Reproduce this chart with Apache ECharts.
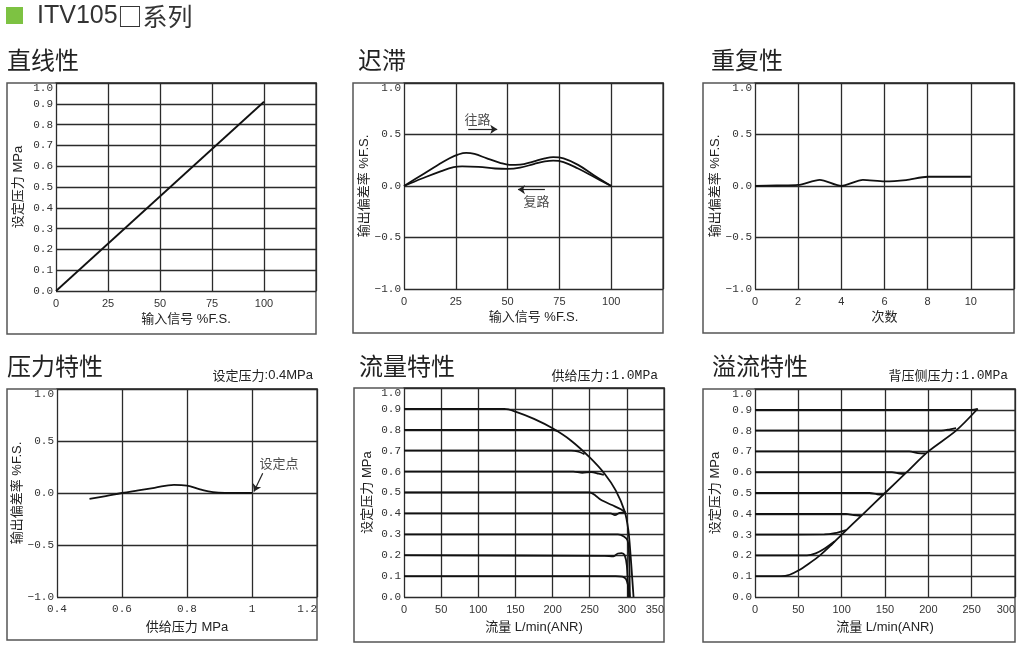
<!DOCTYPE html>
<html><head><meta charset="utf-8">
<script src="https://cdn.jsdelivr.net/npm/echarts@6/dist/echarts.min.js"></script>
<style>html,body{margin:0;padding:0;background:#fff}#c{width:1027px;height:648px}</style>
</head><body><div id="c"></div>
<script>
// ---------- data ----------
// 直线性
const linInput = [0, 100];
const linOutput = [0, 0.91];
// 迟滞
const hystUp = [[0,0],[8,0.1],[16,0.2],[22,0.27],[26,0.305],[30,0.322],[34,0.312],[40,0.268],[46,0.228],[51,0.205],[56,0.208],[62,0.235],[68,0.268],[72,0.28],[77,0.268],[84,0.205],[92,0.1],[100,0]];
const hystDown = [[0,0],[9,0.075],[18,0.145],[24,0.183],[28,0.19],[36,0.185],[44,0.17],[50,0.166],[56,0.178],[63,0.215],[68,0.238],[72,0.246],[77,0.232],[84,0.17],[92,0.085],[100,0]];
const hystFwdArrow = [[31,0.55],[45,0.55]];
const hystBackArrow = [[68,-0.035],[55,-0.035]];
const hystFwdLabel = [35.5,0.65];
const hystBackLabel = [64,-0.15];
// 重复性
const repCount = [0,1,2,3,4,5,6,7,8,9,10];
const repDev = [0,0.005,0.01,0.06,0,0.06,0.045,0.058,0.09,0.09,0.09];
// 压力特性
const presSupply = [0.5,0.55,0.6,0.65,0.7,0.76,0.8,0.84,0.88,0.92,1.0];
const presDev = [-0.057,-0.03,0.0,0.025,0.05,0.078,0.07,0.035,0.008,0.001,0];
const presMarkLabel = [1.083,0.29];
const presMarkArrow = [[1.033,0.19],[1.006,0.015]];
// 流量特性
const flow09 = [[0,0.9],[135,0.9],[150,0.887],[175,0.852],[200,0.807],[225,0.748],[250,0.668],[270,0.59],[285,0.51],[297,0.41],[302,0.32],[305,0.2],[307,0.1],[309,0]];
const flow08 = [[0,0.8],[192,0.8],[200,0.8],[206,0.795]];
const flow07 = [[0,0.7],[225,0.7],[235,0.695],[243,0.683]];
const flow06 = [[0,0.6],[228,0.6],[240,0.594],[252,0.598],[262,0.59],[269,0.584]];
const flow05 = [[0,0.5],[250,0.5],[258,0.485],[265,0.465],[280,0.44],[292,0.42],[298,0.405]];
const flow04 = [[0,0.4],[278,0.4],[284,0.392],[290,0.403],[298,0.405]];
const flow03 = [[0,0.3],[288,0.3],[296,0.29],[301,0.27],[303,0.2],[304,0]];
const flow02 = [[0,0.2],[270,0.197],[282,0.195],[288,0.208],[293,0.21],[297,0.2],[300,0.15],[302,0]];
const flow01 = [[0,0.1],[285,0.1],[294,0.097],[299,0.085],[302,0.05],[304,0]];
// 溢流特性
const relief01 = [[0,0.1],[30,0.1],[40,0.107],[50,0.127],[62,0.16],[75,0.2],[88,0.25],[100,0.3],[125,0.4],[150,0.5],[175,0.6],[200,0.7],[232,0.8],[257,0.905]];
const relief02 = [[0,0.2],[60,0.2],[70,0.21],[80,0.232],[92,0.268]];
const relief03 = [[0,0.3],[80,0.301],[92,0.307],[105,0.322]];
const relief04 = [[0,0.4],[105,0.4],[114,0.394],[122,0.39]];
const relief05 = [[0,0.5],[132,0.5],[141,0.494],[148,0.492]];
const relief06 = [[0,0.6],[158,0.6],[167,0.593],[173,0.592]];
const relief07 = [[0,0.7],[178,0.7],[188,0.692],[197,0.69]];
const relief08 = [[0,0.8],[215,0.8],[225,0.806],[232,0.812]];
const relief09 = [[0,0.9],[250,0.9],[257,0.905]];

// ---------- layout ----------
const chart = echarts.init(document.getElementById('c'));
const SANS = "'Liberation Sans','Noto Sans CJK SC',sans-serif";
const CJK = "'Noto Sans CJK SC','Liberation Sans',sans-serif";
const MONO = "'Liberation Mono','DejaVu Sans Mono',monospace";

const gridBoxes = [
  {left:56, top:83, width:260, height:208},
  {left:404, top:83, width:259, height:206},
  {left:755, top:83, width:259, height:206},
  {left:57, top:389, width:260, height:208},
  {left:404, top:388, width:260, height:209},
  {left:755, top:389, width:260, height:208}
];
const panels = [
  [7,83,309,251],[353,83,310,250],[703,83,311,250],
  [7,389,310,251],[354,388,310,254],[703,389,312,253]
];

function dec(v){ const r = Math.round(v*10)/10; return (r<0?'−':'') + Math.abs(r).toFixed(1); }

const splitStyle = {show:true, lineStyle:{color:'#2b2b2b', width:1.3}};
function xAx(gi, min, max, interval, name, opts){
  opts = opts || {};
  return {
    type:'value', gridIndex:gi, min, max, interval,
    axisLine:{show:false}, axisTick:{show:false}, splitLine:splitStyle,
    axisLabel:Object.assign({color:'#333', fontSize:11, fontFamily:SANS, margin:7}, opts.label||{}),
    name, nameLocation:'middle', nameGap:opts.nameGap||22,
    nameTextStyle:{color:'#222', fontSize:13, fontFamily:SANS}
  };
}
function yAx(gi, min, max, interval, name, nameGap){
  return {
    type:'value', gridIndex:gi, min, max, interval,
    axisLine:{show:false}, axisTick:{show:false}, splitLine:splitStyle,
    axisLabel:{color:'#333', fontSize:11, fontFamily:MONO, margin:3, formatter:dec, verticalAlignMaxLabel:'top'},
    name, nameLocation:'middle', nameGap,
    nameTextStyle:{color:'#222', fontSize:13, fontFamily:SANS}
  };
}

function ln(gi, data, smooth){
  return {type:'line', xAxisIndex:gi, yAxisIndex:gi, data, smooth:smooth===undefined?0.4:smooth,
    showSymbol:false, symbol:'none', silent:true, lineStyle:{color:'#111', width:1.8}, z:5};
}
function note(gi, pos, text, arrows){
  const s = {type:'scatter', xAxisIndex:gi, yAxisIndex:gi, symbolSize:0, silent:true, z:6,
    data:[{value:pos, name:text}],
    label:{show:true, position:'inside', formatter:'{b}', color:'#222', fontSize:13, fontFamily:CJK}};
  if (arrows) s.markLine = {silent:true, symbol:['none','arrow'], symbolSize:7, animation:false,
    lineStyle:{color:'#222', width:1.2, type:'solid'}, label:{show:false},
    data: arrows.map(a=>[{coord:a[0]},{coord:a[1]}])};
  return s;
}

const titleStyle = {color:'#222', fontSize:24, fontWeight:'normal', fontFamily:CJK};
const noteRich = {
  a:{fontSize:13, fontFamily:CJK, color:'#222', fontWeight:'normal'},
  b:{fontSize:13, fontFamily:MONO, color:'#222', fontWeight:'normal'},
  c:{fontSize:13, fontFamily:SANS, color:'#222', fontWeight:'normal'}
};
const headRich = {
  l:{fontSize:25, fontFamily:SANS, color:'#333', fontWeight:'normal'},
  k:{fontSize:25, fontFamily:CJK, color:'#333', fontWeight:'normal'}
};

const option = {
  animation:false,
  backgroundColor:'#fff',
  graphic:[
    {type:'rect', shape:{x:6,y:7,width:17,height:17}, style:{fill:'#7dc242'}, z:0},
    ...panels.map(p=>({type:'rect', shape:{x:p[0],y:p[1],width:p[2],height:p[3]}, style:{fill:'#fff', stroke:'#555', lineWidth:1.5}, z:0}))
  ],
  title:[
    {text:'{l|ITV105}{k|□系列}', left:37, top:4, padding:0, textStyle:{fontWeight:'normal', rich:headRich}},
    {text:'直线性', left:7, top:48, padding:0, textStyle:titleStyle},
    {text:'迟滞', left:358, top:48, padding:0, textStyle:titleStyle},
    {text:'重复性', left:711, top:48, padding:0, textStyle:titleStyle},
    {text:'压力特性', left:7, top:354, padding:0, textStyle:titleStyle},
    {text:'流量特性', left:359, top:354, padding:0, textStyle:titleStyle},
    {text:'溢流特性', left:712, top:354, padding:0, textStyle:titleStyle},
    {text:'{a|设定压力}{c|:0.4MPa}', right:714, top:369, padding:0, textStyle:{fontWeight:'normal', rich:noteRich}},
    {text:'{a|供给压力}{b|:1.0MPa}', right:369, top:369, padding:0, textStyle:{fontWeight:'normal', rich:noteRich}},
    {text:'{a|背压侧压力}{b|:1.0MPa}', right:19, top:369, padding:0, textStyle:{fontWeight:'normal', rich:noteRich}}
  ],
  grid: gridBoxes.map(g=>Object.assign({show:true, backgroundColor:'#e9e9e9', borderColor:'#1e1e1e', borderWidth:1.5, containLabel:false, outerBoundsMode:'none'}, g)),
  xAxis:[
    xAx(0, 0, 125, 25, '输入信号 %F.S.', {label:{showMaxLabel:false}}),
    xAx(1, 0, 125, 25, '输入信号 %F.S.', {label:{showMaxLabel:false}}),
    xAx(2, 0, 12, 2, '次数', {label:{showMaxLabel:false}}),
    xAx(3, 0.4, 1.2, 0.2, '供给压力 MPa', {nameGap:24, label:{fontFamily:MONO, alignMaxLabel:'right', formatter:v=>Math.abs(v-1)<1e-9?'1':v.toFixed(1)}}),
    xAx(4, 0, 350, 50, '流量 L/min(ANR)', {nameGap:24, label:{alignMaxLabel:'right'}}),
    xAx(5, 0, 300, 50, '流量 L/min(ANR)', {nameGap:24, label:{alignMaxLabel:'right'}})
  ],
  yAxis:[
    yAx(0, 0, 1, 0.1, '设定压力 MPa', 31),
    yAx(1, -1, 1, 0.5, '输出偏差率 %F.S.', 30),
    yAx(2, -1, 1, 0.5, '输出偏差率 %F.S.', 31),
    yAx(3, -1, 1, 0.5, '输出偏差率 %F.S.', 33),
    yAx(4, 0, 1, 0.1, '设定压力 MPa', 30),
    yAx(5, 0, 1, 0.1, '设定压力 MPa', 33)
  ],
  series:[
    ln(0, linInput.map((x,i)=>[x, linOutput[i]]), false),
    ln(1, hystUp), ln(1, hystDown),
    note(1, hystFwdLabel, '往路', [hystFwdArrow]),
    note(1, hystBackLabel, '复路', [hystBackArrow]),
    ln(2, repCount.map((x,i)=>[x, repDev[i]]), 0.25),
    ln(3, presSupply.map((x,i)=>[x, presDev[i]])),
    note(3, presMarkLabel, '设定点', [presMarkArrow]),
    ...[flow09,flow08,flow07,flow06,flow05,flow04,flow03,flow02,flow01].map(d=>ln(4, d, 0.3)),
    ...[relief01,relief02,relief03,relief04,relief05,relief06,relief07,relief08,relief09].map(d=>ln(5, d, 0.3))
  ]
};
chart.setOption(option);
</script>
</body></html>
